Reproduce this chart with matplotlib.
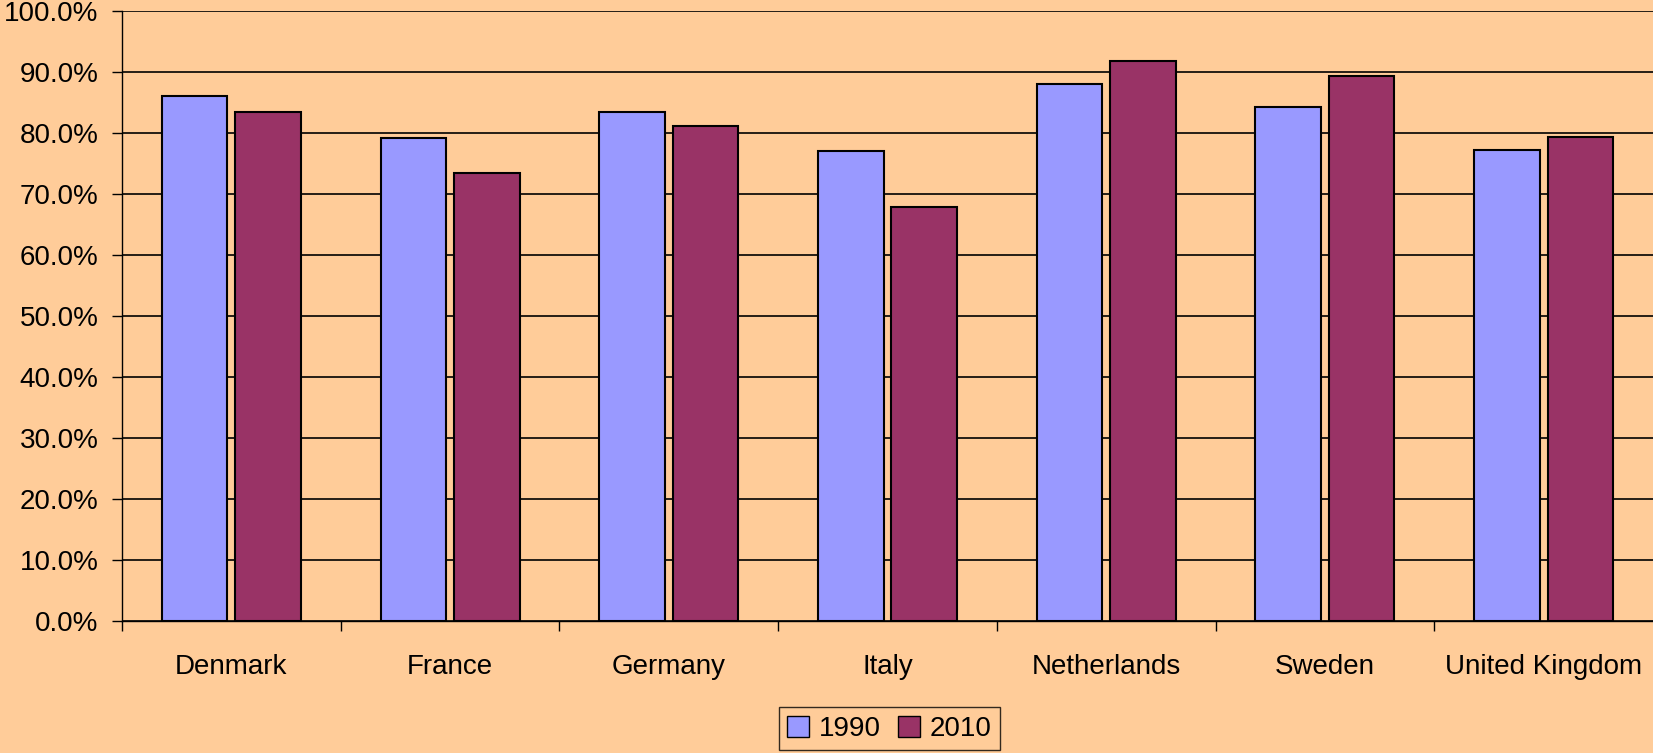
import numpy as np
import matplotlib.pyplot as plt
from matplotlib.ticker import FuncFormatter, FixedLocator
from matplotlib.patches import Patch

plt.rcParams['font.family'] = ['Liberation Sans', 'DejaVu Sans']

countries = ['Denmark', 'France', 'Germany', 'Italy', 'Netherlands', 'Sweden', 'United Kingdom']
y1990 = [86.0, 79.2, 83.5, 77.0, 88.0, 84.3, 77.2]
y2010 = [83.4, 73.4, 81.1, 67.9, 91.8, 89.4, 79.3]

bg = '#FFCC99'
c1990 = '#9999FF'
c2010 = '#993366'

fig = plt.figure(figsize=(16.53, 7.53), dpi=100, facecolor=bg)
ax = fig.add_axes([0.0738, 0.1753, 0.9262, 0.8101])
ax.set_facecolor(bg)

x = np.arange(len(countries))
w = 0.30
ax.bar(x - 0.168, y1990, width=w, color=c1990, edgecolor='black', linewidth=1.5, zorder=3)
ax.bar(x + 0.168, y2010, width=w, color=c2010, edgecolor='black', linewidth=1.5, zorder=3)

ax.set_xlim(-0.5, len(countries) - 0.5)
ax.set_ylim(0, 100)
ax.set_yticks(np.arange(0, 101, 10))
ax.yaxis.set_major_formatter(FuncFormatter(lambda v, pos: '%.1f%%' % v))
ax.yaxis.grid(True, color='black', linewidth=1.2, zorder=0)
ax.set_axisbelow(True)

ax.set_xticks(x)
ax.set_xticklabels(countries)
ax.xaxis.set_minor_locator(FixedLocator(np.arange(-0.5, len(countries) - 0.5, 1)))
ax.tick_params(axis='x', which='major', length=0, pad=24, labelsize=20)
ax.tick_params(axis='x', which='minor', length=7, width=1, direction='out')
ax.tick_params(axis='y', length=7, width=1, pad=10, labelsize=20)

for s in ['top', 'right']:
    ax.spines[s].set_visible(False)
ax.spines['left'].set_linewidth(1)
ax.spines['bottom'].set_linewidth(1)

handles = [Patch(facecolor=c1990, edgecolor='black'), Patch(facecolor=c2010, edgecolor='black')]
leg = fig.legend(handles, ['1990', '2010'], loc='lower center', bbox_to_anchor=(0.538, 0.0),
                 ncol=2, fontsize=20, frameon=True, fancybox=False, borderaxespad=0.1,
                 handlelength=0.8, handleheight=0.8, handletextpad=0.35, columnspacing=0.6,
                 borderpad=0.3)
leg.get_frame().set_facecolor(bg)
leg.get_frame().set_edgecolor('black')
leg.get_frame().set_linewidth(1)

plt.savefig('out.png', dpi=100, facecolor=bg)
